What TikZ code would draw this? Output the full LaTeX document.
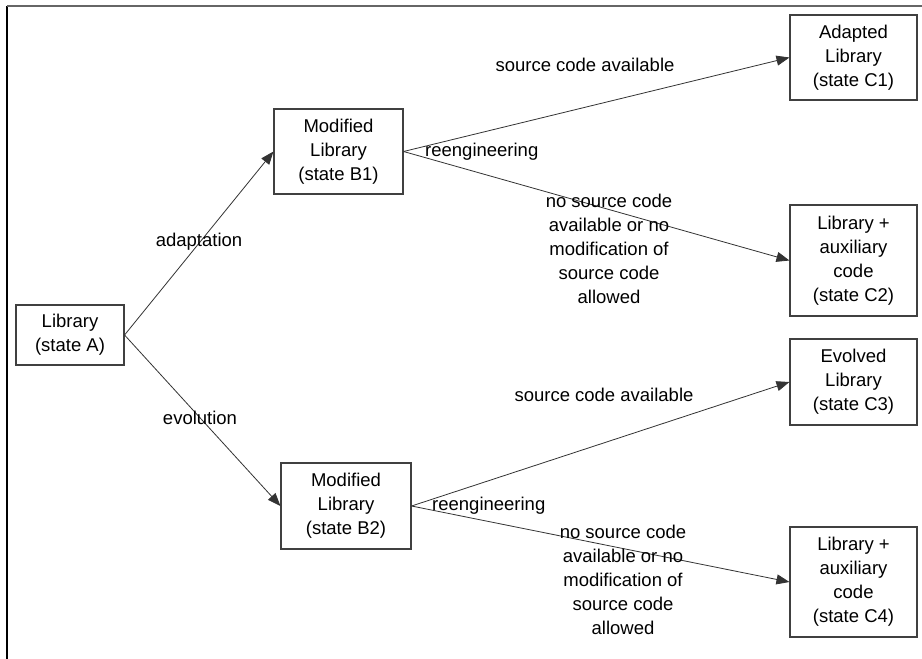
\documentclass[tikz,border=0pt]{standalone}
\usepackage{fontspec}
\setmainfont{Liberation Sans}
\usetikzlibrary{arrows.meta}
\begin{document}
\begin{tikzpicture}[x=1pt,y=-1pt,
  every node/.style={font=\fontsize{18.5}{24}\selectfont, inner sep=0pt},
  box/.style={draw=black!75, line width=1.1pt, align=center, anchor=center},
  conn/.style={draw=black!80, line width=0.8pt, -{Triangle[length=13pt,width=10pt]}},
  lbl/.style={align=center}]
\useasboundingbox (0,0) rectangle (922,659);
\fill[white] (0,0) rectangle (922,659);
% frame
\coordinate (f1) at (7,659);
\coordinate (f2) at (7,6);
\coordinate (f3) at (922,6);
\draw[black, line width=1.8pt] (f1) -- (f2);
\draw[black!60, line width=2pt] (f2) -- (f3);
% nodes
\node[box, minimum width=108pt, minimum height=60pt] (A) at (70,335) {Library\\(state A)};
\node[box, minimum width=129pt, minimum height=85pt] (B1) at (338.5,151.5) {Modified\\Library\\(state B1)};
\node[box, minimum width=130pt, minimum height=86pt] (B2) at (346,506) {Modified\\Library\\(state B2)};
\node[box, minimum width=127pt, minimum height=85pt] (C1) at (853.5,57.5) {Adapted\\Library\\(state C1)};
\node[box, minimum width=127pt, minimum height=111pt] (C2) at (853.5,260.5) {Library +\\auxiliary\\code\\(state C2)};
\node[box, minimum width=127pt, minimum height=86pt] (C3) at (853.5,382) {Evolved\\Library\\(state C3)};
\node[box, minimum width=127pt, minimum height=110pt] (C4) at (853.5,582) {Library +\\auxiliary\\code\\(state C4)};
% connectors
\draw[conn] (A.east) -- (B1.west);
\draw[conn] (A.east) -- (B2.west);
\draw[conn] (B1.east) -- (C1.west);
\draw[conn] (B1.east) -- (C2.west);
\draw[conn] (B2.east) -- (C3.west);
\draw[conn] (B2.east) -- (C4.west);
% labels
\node[lbl] (ladapt) at (199,242) {adaptation};
\node[lbl] (levol) at (200,418) {evolution};
\node[lbl] (lsca1) at (585,65) {source code available};
\node[lbl, anchor=west] (lre1) at (425,152) {reengineering};
\node[lbl] (lno1) at (609,249) {no source code\\available or no\\modification of\\source code\\allowed};
\node[lbl] (lsca2) at (604,395) {source code available};
\node[lbl, anchor=west] (lre2) at (432,506) {reengineering};
\node[lbl] (lno2) at (623,580) {no source code\\available or no\\modification of\\source code\\allowed};
\end{tikzpicture}
\end{document}
